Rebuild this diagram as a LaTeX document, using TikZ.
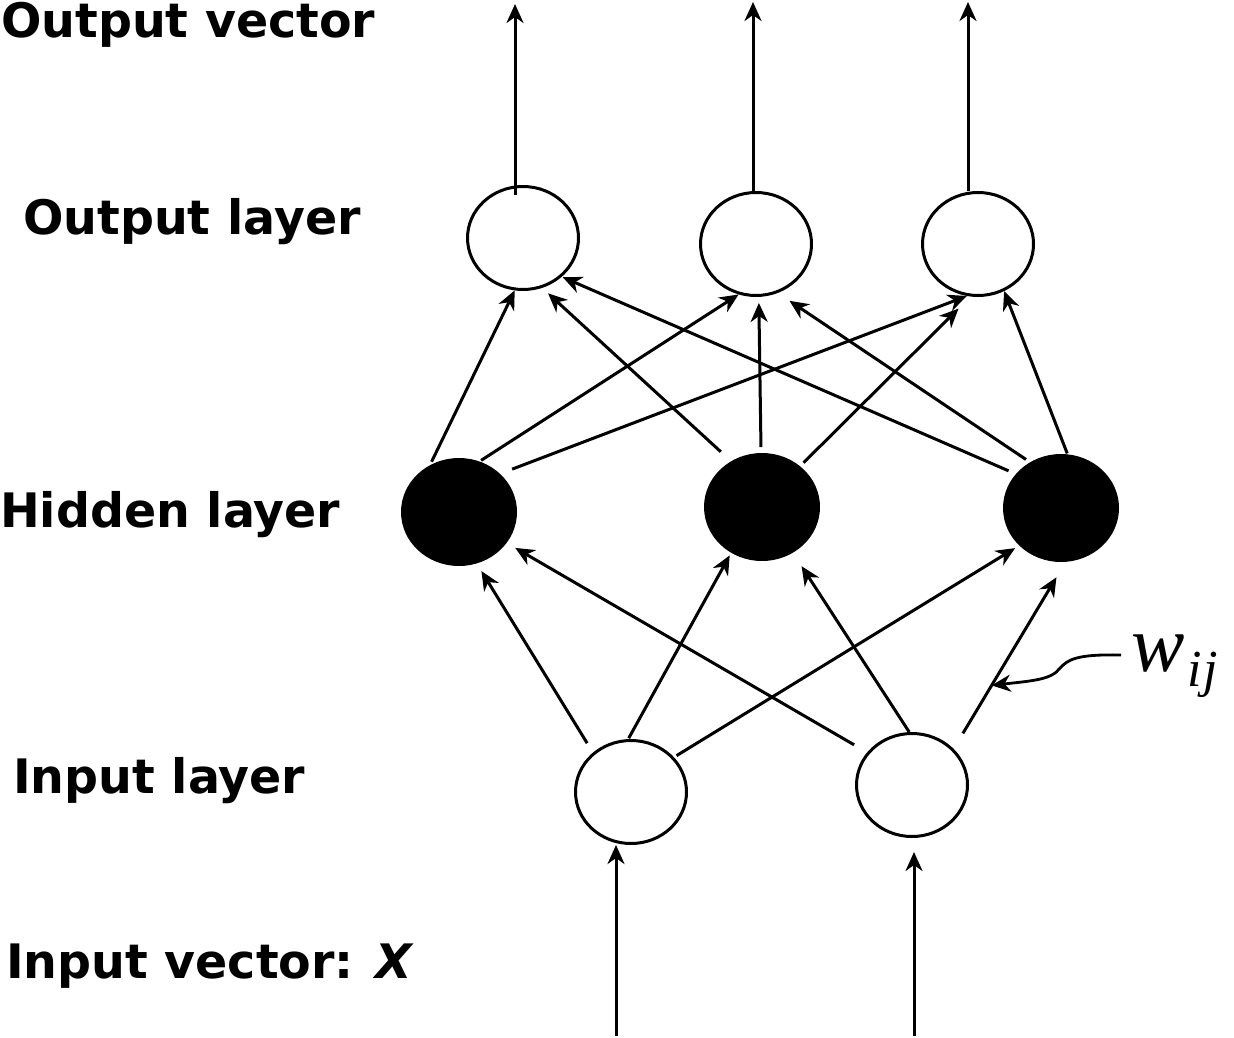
\documentclass[tikz,border=0pt]{standalone}
\usepackage{fontspec}
\setmainfont{DejaVu Sans}
\newfontfamily\tnr{Liberation Serif}
\usetikzlibrary{arrows.meta,shapes.geometric}
\tikzset{
  onode/.style={ellipse, draw, line width=3pt, minimum width=111pt, minimum height=103pt, inner sep=0pt},
  hnode/.style={ellipse, fill=black, minimum width=116pt, minimum height=108pt, inner sep=0pt, outer sep=0pt},
  tip/.style={-{Stealth[length=19pt,width=17pt,inset=6pt]}},
  arr/.style={line width=3pt, tip},
  lab/.style={anchor=base west, inner sep=0pt, font=\fontsize{47.5}{50}\selectfont\bfseries}
}
\begin{document}
\begin{tikzpicture}[x=1pt,y=-1pt]
\useasboundingbox (0,0) rectangle (1234,1038);
% labels
\node[lab] (tov) at (1,38) {Output vector};
\node[lab] (tol) at (23,234) {Output layer};
\node[lab] (thl) at (0,527) {Hidden layer};
\node[lab] (til) at (13,793) {Input layer};
\node[lab] (tiv) at (6,978) {Input vector: \itshape X};
% nodes
\node[onode] (O1) at (523,238) {};
\node[onode] (O2) at (756,244) {};
\node[onode] (O3) at (978,244) {};
\node[hnode] (H1) at (459,512) {};
\node[hnode] (H2) at (762,507) {};
\node[hnode] (H3) at (1061,508) {};
\node[onode] (I1) at (631,792) {};
\node[onode] (I2) at (912,785) {};
% output arrows
\coordinate (out1) at (515,4);
\coordinate (out2) at (753,2);
\coordinate (out3) at (968,2);
\draw[arr] ([yshift=-10pt]out1 |- O1.north) -- (out1);
\draw[arr] (out2 |- O2.north) -- (out2);
\draw[arr] (out3 |- O3.north) -- (out3);
% input arrows
\coordinate (in1) at (616,1036);
\coordinate (in2) at (914,1036);
\draw[arr] (in1) -- (in1 |- I1.south);
\draw[arr, shorten >=14pt] (in2) -- (in2 |- I2.south);
% hidden -> output
\draw[arr, shorten <=4pt] (H1.122.6) -- (O1.261.6);
\draw[arr, shorten <=2pt] (H1.68) -- (O2.251.6);
\draw[arr, shorten <=13pt] (H1.43.9) -- (O3.258.9);
\draw[arr, shorten <=14pt, shorten >=8pt] (H2.124.4) -- (O1.291.3);
\draw[arr, shorten <=6pt, shorten >=6pt] (H2.91.9) -- (O2.273.8);
\draw[arr, shorten <=5pt, shorten >=17pt] (H2.47.7) -- (O3.262);
\draw[arr, shorten <=8pt, shorten >=1pt] (H3.143.8) -- (O1.315);
\draw[arr, shorten <=5pt, shorten >=14pt] (H3.124.2) -- (O2.294);
\draw[arr, shorten <=1pt] (H3.83.8) -- (O3.299.4);
% input -> hidden
\draw[arr, shorten <=11pt, shorten >=9pt] (I1.134.4) -- (H1.289.3);
\draw[arr, shorten <=1pt, shorten >=3pt] (I1.93.2) -- (H2.236.3);
\draw[arr, shorten <=3pt, shorten >=5pt] (I1.39.4) -- (H3.222.3);
\draw[arr, shorten <=15pt, shorten >=10pt] (I2.144.3) -- (H1.327.3);
\draw[arr, shorten >=16pt] (I2.93.3) -- (H2.304.1);
\draw[arr, shorten <=18pt, shorten >=18pt] (I2.41.4) -- coordinate[pos=0.339] (wtip) (H3.275);
% weight label
\node[anchor=base west, inner sep=0pt] (wl) at (1131,671)
  {\tnr\itshape\fontsize{80}{84}\selectfont w\kern3pt\raisebox{-15pt}{\fontsize{52}{54}\selectfont i\kern1pt j}};
\coordinate (wstart) at (1121,655);
\draw[line width=2.8pt, tip] (wstart) .. controls (1075,654) and (1068,660) .. (1060,668) .. controls (1052,680) and (1030,681) .. (wtip);
\end{tikzpicture}
\end{document}
